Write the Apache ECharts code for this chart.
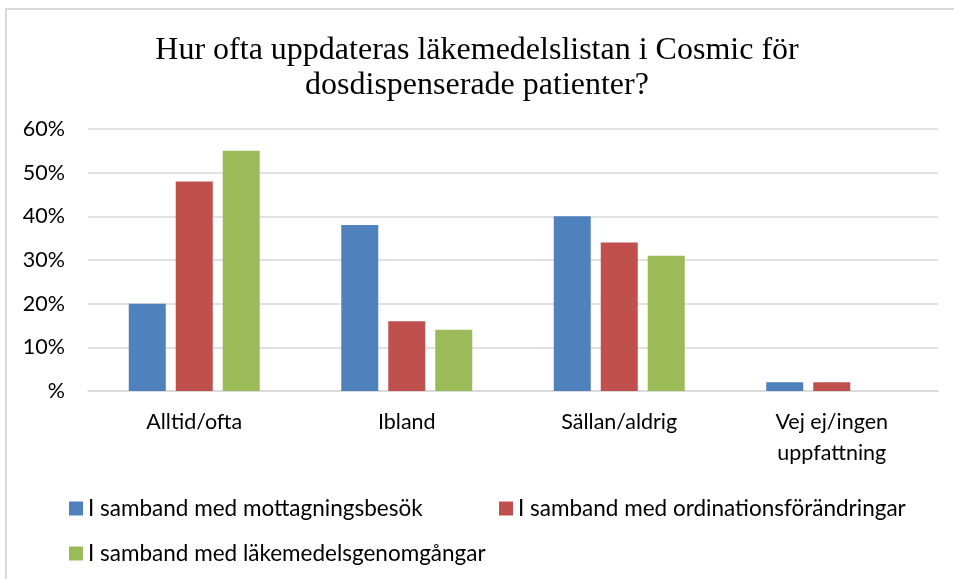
<!DOCTYPE html>
<html>
<head>
<meta charset="utf-8">
<script src="https://cdn.jsdelivr.net/npm/echarts@6/dist/echarts.min.js"></script>
<style>
  html, body { margin: 0; padding: 0; background: #fff; }
  #main { width: 954px; height: 579px; }
</style>
</head>
<body>
<div id="main"></div>
<script>
var categories = ['Alltid/ofta', 'Ibland', 'Sällan/aldrig', 'Vej ej/ingen\nuppfattning'];
var seriesNames = ['I samband med mottagningsbesök', 'I samband med ordinationsförändringar', 'I samband med läkemedelsgenomgångar'];
var besok = [20, 38, 40, 2];
var ordination = [48, 16, 34, 2];
var genomgang = [55, 14, 31, 0];
var colors = ['#4F81BD', '#C0504D', '#9BBB59'];

var labelFont = 'Lato, "Open Sans", sans-serif';

var chart = echarts.init(document.getElementById('main'));

function legendAt(name, left, top){
  return {
    data: [name],
    left: left,
    top: top,
    icon: 'rect',
    itemWidth: 14,
    itemHeight: 14,
    padding: 0,
    selectedMode: false,
    textStyle: { fontFamily: labelFont, fontSize: 22.5, color: '#000' }
  };
}

var option = {
  animation: false,
  color: colors,
  title: {
    text: 'Hur ofta uppdateras läkemedelslistan i Cosmic för\ndosdispenserade patienter?',
    left: 'center',
    top: 28,
    textStyle: {
      fontFamily: '"Liberation Serif", "DejaVu Serif", serif',
      fontWeight: 'normal',
      fontSize: 32,
      lineHeight: 35,
      color: '#000'
    }
  },
  legend: [
    legendAt(seriesNames[0], 69, 497),
    legendAt(seriesNames[1], 499, 497),
    legendAt(seriesNames[2], 69, 542)
  ],
  grid: { left: 88, right: 16, top: 129, bottom: 188 },
  xAxis: {
    type: 'category',
    data: categories,
    axisLine: { lineStyle: { color: '#d9d9d9', width: 1.5 } },
    axisTick: { show: false },
    axisLabel: {
      color: '#000',
      fontFamily: labelFont,
      fontSize: 21.5,
      lineHeight: 31,
      margin: 16,
      interval: 0
    }
  },
  yAxis: {
    type: 'value',
    min: 0,
    max: 60,
    interval: 10,
    axisLine: { show: false },
    axisTick: { show: false },
    axisLabel: {
      color: '#000',
      fontFamily: labelFont,
      fontSize: 21.5,
      margin: 23,
      formatter: function(v){ return v === 0 ? '%' : v + '%'; }
    },
    splitLine: { lineStyle: { color: '#d9d9d9', width: 1.5 } }
  },
  series: [
    { name: seriesNames[0], type: 'bar', data: besok, barWidth: 37, barGap: '27%' },
    { name: seriesNames[1], type: 'bar', data: ordination, barWidth: 37, barGap: '27%' },
    { name: seriesNames[2], type: 'bar', data: genomgang, barWidth: 37, barGap: '27%' }
  ],
  graphic: [{
    type: 'rect',
    shape: { x: 6, y: 9, width: 1000, height: 600 },
    style: { fill: 'none', stroke: '#d9d9d9', lineWidth: 2 },
    silent: true
  }]
};

chart.setOption(option);
</script>
</body>
</html>
